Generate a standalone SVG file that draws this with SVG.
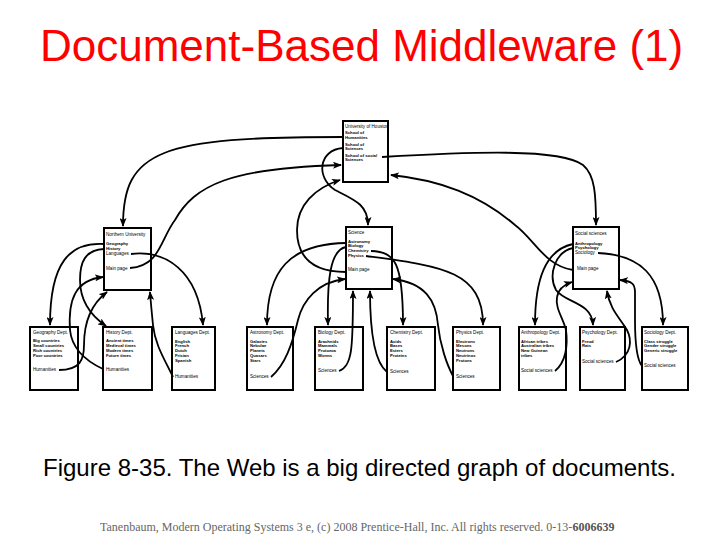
<svg xmlns="http://www.w3.org/2000/svg" width="720" height="540" viewBox="0 0 720 540">
<defs>
<marker id="ah" markerUnits="userSpaceOnUse" markerWidth="9" markerHeight="7" refX="8" refY="3.5" orient="auto">
<path d="M0,0 L9,3.5 L0,7 L2,3.5 z" fill="#000"/>
</marker>
<style>
.box{fill:#fff;stroke:#000;stroke-width:2}
.t{font-family:"Liberation Sans",Arial,sans-serif;font-size:4.6px;fill:#000}
.i{font-family:"Liberation Sans",Arial,sans-serif;font-size:4.2px;fill:#000;font-weight:bold}
.c{fill:none;stroke:#000;stroke-width:1.8;marker-end:url(#ah)}
</style>
</defs>
<rect width="720" height="540" fill="#fff"/>
<text x="40" y="61" font-family="Liberation Sans,Arial,sans-serif" font-size="44" fill="#ff0000">Document-Based Middleware (1)</text>

<g id="university">
<rect class="box" x="343" y="121" width="45" height="61"/>
<text class="t" x="345" y="128">University of Houston</text>
<text class="i" x="345" y="134">School of</text>
<text class="i" x="345" y="139">Humanities</text>
<text class="i" x="345" y="146">School of</text>
<text class="i" x="345" y="150">Sciences</text>
<text class="i" x="345" y="157">School of social</text>
<text class="i" x="345" y="161">Sciences</text>
</g>

<g id="northern">
<rect class="box" x="104" y="228" width="47" height="62"/>
<text class="t" x="106" y="236">Northern University</text>
<text class="i" x="106" y="245">Geography</text>
<text class="i" x="106" y="250">History</text>
<text class="t" x="106" y="255">Languages</text>
<text class="t" x="106" y="270">Main page</text>
</g>

<g id="science">
<rect class="box" x="346" y="227" width="46" height="62"/>
<text class="t" x="348" y="234">Science</text>
<text class="i" x="348" y="243">Astronomy</text>
<text class="i" x="348" y="247">Biology</text>
<text class="i" x="348" y="252">Chemistry</text>
<text class="i" x="348" y="257">Physics</text>
<text class="t" x="348" y="271">Main page</text>
</g>

<g id="social">
<rect class="box" x="573" y="227" width="46" height="62"/>
<text class="t" x="575" y="235">Social sciences</text>
<text class="i" x="575" y="245">Anthropology</text>
<text class="i" x="575" y="249">Psychology</text>
<text class="t" x="575" y="254">Sociology</text>
<text class="t" x="577" y="270">Main page</text>
</g>

<g id="geography">
<rect class="box" x="30" y="327" width="48" height="63"/>
<text class="t" x="33" y="334">Geography Dept.</text>
<text class="i" x="33" y="342">Big countries</text>
<text class="i" x="33" y="347">Small countries</text>
<text class="i" x="33" y="352">Rich countries</text>
<text class="i" x="33" y="357">Poor countries</text>
<text class="t" x="33" y="371">Humanities</text>
</g>

<g id="history">
<rect class="box" x="103" y="327" width="49" height="63"/>
<text class="t" x="106" y="334">History Dept.</text>
<text class="i" x="106" y="342">Ancient times</text>
<text class="i" x="106" y="347">Medieval times</text>
<text class="i" x="106" y="352">Modern times</text>
<text class="i" x="106" y="357">Future times</text>
<text class="t" x="106" y="371">Humanities</text>
</g>

<g id="languages">
<rect class="box" x="172" y="327" width="43" height="63"/>
<text class="t" x="175" y="334">Languages Dept.</text>
<text class="i" x="175" y="343">English</text>
<text class="i" x="175" y="347">French</text>
<text class="i" x="175" y="352">Dutch</text>
<text class="i" x="175" y="357">Frisian</text>
<text class="i" x="175" y="362">Spanish</text>
<text class="t" x="175" y="378">Humanities</text>
</g>

<g id="astronomy">
<rect class="box" x="247" y="327" width="46" height="63"/>
<text class="t" x="250" y="334">Astronomy Dept.</text>
<text class="i" x="250" y="343">Galaxies</text>
<text class="i" x="250" y="347">Nebulae</text>
<text class="i" x="250" y="352">Planets</text>
<text class="i" x="250" y="357">Quasars</text>
<text class="i" x="250" y="362">Stars</text>
<text class="t" x="250" y="378">Sciences</text>
</g>

<g id="biology">
<rect class="box" x="315" y="327" width="48" height="63"/>
<text class="t" x="318" y="334">Biology Dept.</text>
<text class="i" x="318" y="343">Arachnids</text>
<text class="i" x="318" y="347">Mammals</text>
<text class="i" x="318" y="352">Protozoa</text>
<text class="i" x="318" y="357">Worms</text>
<text class="t" x="318" y="372">Sciences</text>
</g>

<g id="chemistry">
<rect class="box" x="387" y="327" width="48" height="63"/>
<text class="t" x="390" y="334">Chemistry Dept.</text>
<text class="i" x="390" y="343">Acids</text>
<text class="i" x="390" y="347">Bases</text>
<text class="i" x="390" y="352">Esters</text>
<text class="i" x="390" y="357">Proteins</text>
<text class="t" x="390" y="373">Sciences</text>
</g>

<g id="physics">
<rect class="box" x="453" y="327" width="47" height="63"/>
<text class="t" x="456" y="334">Physics Dept.</text>
<text class="i" x="456" y="343">Electrons</text>
<text class="i" x="456" y="347">Mesons</text>
<text class="i" x="456" y="352">Neutrons</text>
<text class="i" x="456" y="357">Neutrinos</text>
<text class="i" x="456" y="362">Protons</text>
<text class="t" x="456" y="378">Sciences</text>
</g>

<g id="anthropology">
<rect class="box" x="519" y="327" width="47" height="63"/>
<text class="t" x="521" y="334">Anthropology Dept.</text>
<text class="i" x="521" y="343">African tribes</text>
<text class="i" x="521" y="347">Australian tribes</text>
<text class="i" x="521" y="352">New Guinean</text>
<text class="i" x="521" y="357">tribes</text>
<text class="t" x="521" y="372">Social sciences</text>
</g>

<g id="psychology">
<rect class="box" x="580" y="327" width="45" height="63"/>
<text class="t" x="582" y="334">Psychology Dept.</text>
<text class="i" x="582" y="343">Freud</text>
<text class="i" x="582" y="347">Rats</text>
<text class="t" x="582" y="363">Social sciences</text>
</g>

<g id="sociology">
<rect class="box" x="642" y="327" width="46" height="63"/>
<text class="t" x="644" y="334">Sociology Dept.</text>
<text class="i" x="644" y="343">Class struggle</text>
<text class="i" x="644" y="347">Gender struggle</text>
<text class="i" x="644" y="352">Generic struggle</text>
<text class="t" x="644" y="367">Social sciences</text>
</g>

<g id="connectors">
<path class="c" d="M343,137 C160,137 123,150 123,226"/>
<path class="c" d="M343,148 C318,150 316,178 335,190 C355,200 368,205 368,225"/>
<path class="c" d="M382,157 C470,152 560,148 583,165 C595,175 596,195 596,225"/>
<path class="c" d="M130,268 C160,266 160,240 175,220 C195,185 230,168 341,165"/>
<path class="c" d="M346,272 C310,272 297,255 297,230 C297,205 315,188 340,180"/>
<path class="c" d="M573,270 C545,266 535,240 515,225 C480,195 440,180 391,175"/>
<path class="c" d="M104,244 C70,242 50,262 50,325"/>
<path class="c" d="M104,249 C85,250 80,262 80,280 C80,300 90,315 106,326"/>
<path class="c" d="M131,254 C165,250 198,270 203,325"/>
<path class="c" d="M59,370 C80,370 84,360 84,345 C84,325 90,305 107,292"/>
<path class="c" d="M103,369 C88,362 72,350 70,330 C68,300 75,280 103,277"/>
<path class="c" d="M173,377 C165,360 155,345 153,325 C152,315 151,305 150,292"/>
<path class="c" d="M346,243 C290,244 267,270 267,325"/>
<path class="c" d="M346,247 C330,250 327,280 328,325"/>
<path class="c" d="M371,251 C395,252 403,262 403,325"/>
<path class="c" d="M366,256 C440,266 483,270 483,325"/>
<path class="c" d="M271,377 C285,365 292,345 298,320 C303,300 318,282 345,279"/>
<path class="c" d="M339,371 C352,366 353,350 353,291"/>
<path class="c" d="M387,372 C378,365 370,345 370,291"/>
<path class="c" d="M453,376 C447,365 440,345 438,325 C436,300 425,283 393,279"/>
<path class="c" d="M573,244 C545,250 535,280 535,325"/>
<path class="c" d="M573,248 C555,252 548,275 556,290 C565,303 592,302 593,325"/>
<path class="c" d="M598,253 C640,255 663,275 663,325"/>
<path class="c" d="M555,371 C566,362 568,345 566,330 C563,318 555,308 557,297 C558,290 563,285 572,282"/>
<path class="c" d="M616,362 C632,355 632,340 627,330 C620,318 610,310 607,291"/>
<path class="c" d="M642,366 C637,360 635,345 635,320 L635,292 C635,284 632,281 620,280"/>
</g>

<text x="43" y="476" font-family="Liberation Sans,Arial,sans-serif" font-size="24" fill="#000">Figure 8-35. The Web is a big directed graph of documents.</text>
<text x="100" y="531" font-family="Liberation Serif,Times New Roman,serif" font-size="12" fill="#666">Tanenbaum, Modern Operating Systems 3 e, (c) 2008 Prentice-Hall, Inc. All rights reserved. 0-13-<tspan font-weight="bold" fill="#555">6006639</tspan></text>
</svg>
